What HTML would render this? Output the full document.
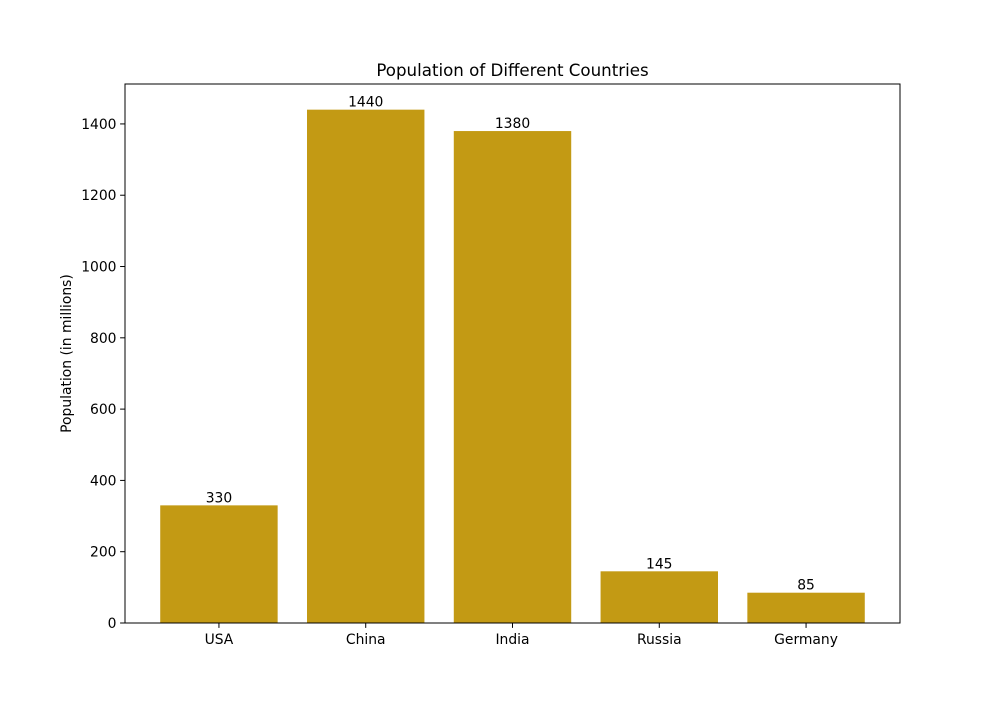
<!DOCTYPE html>
<html><head><meta charset="utf-8"><style>
body{margin:0;background:#fff}
svg text{font-family:"DejaVu Sans","Liberation Sans",sans-serif;fill:#000}
</style></head><body>
<svg id="chart" width="1000" height="700" xmlns="http://www.w3.org/2000/svg">
<rect width="1000" height="700" fill="#fff"/>
<text x="512.5" y="76" font-size="16.67" text-anchor="middle">Population of Different Countries</text>
<text transform="translate(71,353.5) rotate(-90)" font-size="13.89" text-anchor="middle">Population (in millions)</text>
<g id="marks"></g>
<rect x="125" y="84" width="775" height="539" fill="none" stroke="#000" stroke-width="1"/>
</svg>
<script>
const categories=["USA","China","India","Russia","Germany"];
const values=[330,1440,1380,145,85];
const yTicks=[0,200,400,600,800,1000,1200,1400];
const L=125,R=900,T=84,B=623;
const yMax=1512,xMin=-0.64,xMax=4.64;
const y=v=>B-v/yMax*(B-T);
const x=i=>L+(i-xMin)/(xMax-xMin)*(R-L);
const ns="http://www.w3.org/2000/svg";
const g=document.getElementById("marks");
function mk(t,a){const e=document.createElementNS(ns,t);for(const k in a)e.setAttribute(k,a[k]);g.appendChild(e);return e;}
const bw=0.8*(R-L)/(xMax-xMin);
values.forEach((v,i)=>{
 const r=mk("rect",{x:x(i)-bw/2,y:y(v),width:bw,height:B-y(v),fill:"#c39a14"});
 
 
 const t=mk("text",{x:x(i),y:y(v)-3,"font-size":"13.89","text-anchor":"middle"});
 t.textContent=v;
 
 
 const tk=mk("line",{x1:x(i),x2:x(i),y1:B,y2:B+4.9,stroke:"#000"});
 
 
 const xl=mk("text",{x:x(i),y:B+21,"font-size":"13.89","text-anchor":"middle"});
 xl.textContent=categories[i];
 
 
});
yTicks.forEach(v=>{
 const tk=mk("line",{x1:L-4.9,x2:L,y1:y(v),y2:y(v),stroke:"#000"});
 
 
 const t=mk("text",{x:L-8.5,y:y(v)+5,"font-size":"13.89","text-anchor":"end"});
 t.textContent=v;
 
 
});
</script>
</body></html>
